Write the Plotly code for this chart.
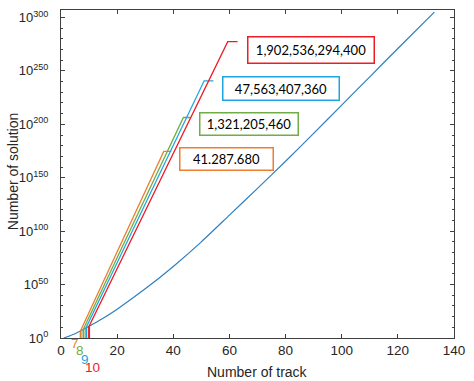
import plotly.graph_objects as go

# Blue curve: number of solutions vs number of tracks
track_x = [1, 5, 10, 15, 20, 30, 40, 50, 60, 70, 80, 90, 100, 110, 120, 133]
track_y = [1e0, 1e4, 1e11, 3e18, 1e27, 1e46, 1e67, 1e90, 1e115, 1e140, 3e165,
           3e191, 1e218, 3e244, 1e271, 1e305]

# Coloured series (7, 8, 9, 10)
series_names = ["7", "8", "9", "10"]
series_colors = ["#ED7D31", "#70AD47", "#1FA6E0", "#EE1C25"]
start_x = [7, 8, 9, 10]
start_y = [1e7, 3e8, 1e10, 1e11]
corner_x = [36.6, 43.6, 51.0, 59.4]
corner_y = [4e174, 2.5e206, 5e240, 2.5e277]
end_x = [39.3, 46.1, 54.3, 62.9]
box_labels = ["41.287.680", "1,321,205,460", "47,563,407,360", "1,902,536,294,400"]

x_ticks = [0, 20, 40, 60, 80, 100, 120, 140]
y_tick_exp = [0, 50, 100, 150, 200, 250, 300]

fig = go.Figure()

fig.add_trace(go.Scatter(x=track_x, y=track_y, mode="lines",
                         line=dict(color="#2F7FC1", width=1.2, shape="spline", smoothing=0.5),
                         showlegend=False, hoverinfo="skip"))

for i in range(4):
    c = series_colors[i]
    fig.add_trace(go.Scatter(x=[start_x[i], start_x[i]], y=[1, start_y[i]], mode="lines",
                             line=dict(color=c, width=2), showlegend=False, hoverinfo="skip"))
    fig.add_trace(go.Scatter(x=[start_x[i], corner_x[i], end_x[i]],
                             y=[start_y[i], corner_y[i], corner_y[i]], mode="lines",
                             line=dict(color=c, width=1.3), showlegend=False, hoverinfo="skip"))

# Boxes with numbers (positions in data coords; y in log10 units)
box_pos = [(58.8, 168.0, 92, 21), (66.9, 200.2, 97, 21), (78.2, 233.2, 115, 22), (88.9, 269.2, 125, 25)]
for i in range(4):
    bx, by, bw, bh = box_pos[i]
    fig.add_annotation(x=bx, y=by, xref="x", yref="y", text=box_labels[i], showarrow=False,
                       font=dict(family="Lato, Carlito, sans-serif", size=13, color="#000000"),
                       bordercolor=series_colors[i], borderwidth=1.5, borderpad=0,
                       width=bw, height=bh, bgcolor="rgba(255,255,255,0)")

# Coloured labels under the axis
lab_pos = [(4.9, -0.0173), (6.65, -0.0395), (8.58, -0.0653), (11.3, -0.0897)]
for i in range(4):
    lx, ly = lab_pos[i]
    fig.add_annotation(x=lx, y=ly, xref="x", yref="paper", text=series_names[i], showarrow=False,
                       font=dict(family="Liberation Sans, Arial, sans-serif", size=13.5, color=series_colors[i]),
                       xanchor="center", yanchor="middle")

# Axis titles
fig.add_annotation(x=0.5, y=-0.103, xref="paper", yref="paper", text="Number of track",
                   showarrow=False, font=dict(family="Liberation Sans, Arial, sans-serif", size=14, color="#262626"),
                   xanchor="center", yanchor="middle")
fig.add_annotation(x=-0.12, y=0.508, xref="paper", yref="paper", text="Number of solution",
                   showarrow=False, textangle=-90,
                   font=dict(family="Liberation Sans, Arial, sans-serif", size=14, color="#262626"),
                   xanchor="center", yanchor="middle")

axis_col = "#404040"
fig.update_layout(
    width=474, height=381,
    margin=dict(l=61, r=13, t=9, b=43),
    paper_bgcolor="white", plot_bgcolor="white",
    xaxis=dict(range=[0, 140], tickvals=x_ticks, ticks="inside", ticklen=4, tickcolor=axis_col,
               showline=True, linecolor=axis_col, linewidth=1, mirror="ticks", showgrid=False,
               zeroline=False,
               tickfont=dict(family="Liberation Sans, Arial, sans-serif", size=13.5, color="#262626")),
    yaxis=dict(type="log", range=[0, 307],
               tickmode="array",
               tickvals=[10.0 ** e for e in y_tick_exp],
               ticktext=["10<sup>%d</sup>" % e for e in y_tick_exp],
               ticks="inside", ticklen=4, tickcolor=axis_col, ticklabelstandoff=9,
               minor=dict(tickmode="array", tickvals=[10.0 ** e for e in range(10, 301, 10)],
                          ticks="inside", ticklen=2, tickcolor=axis_col, showgrid=False),
               showline=True, linecolor=axis_col, linewidth=1, mirror="ticks", showgrid=False,
               zeroline=False,
               tickfont=dict(family="Liberation Sans, Arial, sans-serif", size=13, color="#262626")),
)

fig.write_html("out.html")
